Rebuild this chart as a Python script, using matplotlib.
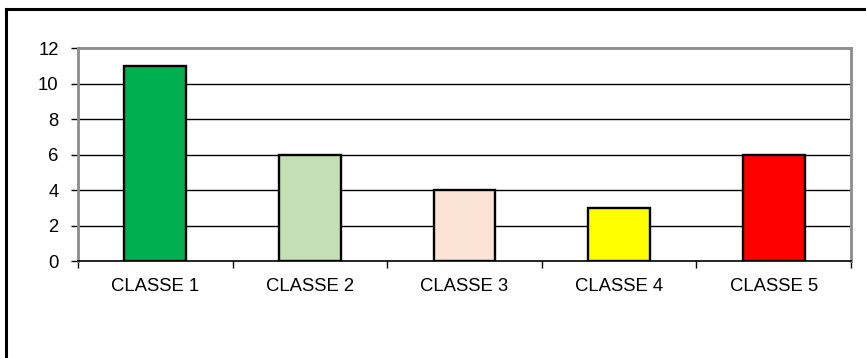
import matplotlib

matplotlib.use("Agg")
import matplotlib.pyplot as plt
from matplotlib.lines import Line2D

plt.rcParams["font.family"] = ["Liberation Sans", "DejaVu Sans"]

classes = ["CLASSE 1", "CLASSE 2", "CLASSE 3", "CLASSE 4", "CLASSE 5"]
counts = [11, 6, 4, 3, 6]
bar_colors = ["#00B050", "#C4DFB4", "#FBE4D5", "#FFFF00", "#FF0000"]
y_ticks = [0, 2, 4, 6, 8, 10, 12]

GRID = "#000000"
FRAME = "#8c8c8c"

W, H = 866, 358
fig = plt.figure(figsize=(W / 100, H / 100), dpi=100)
fig.patch.set_facecolor("white")

# plot area in pixel terms
x0, x1, y_top, y_bot = 78, 851, 48, 261
ax = fig.add_axes([x0 / W, 1 - y_bot / H, (x1 - x0) / W, (y_bot - y_top) / H])

pos = list(range(len(classes)))
ax.bar(pos, counts, width=0.4, color=bar_colors, edgecolor="black",
       linewidth=1.7, zorder=3)

ax.set_xlim(-0.5, len(classes) - 0.5)
ax.set_ylim(0, 12)
ax.set_yticks(y_ticks)
ax.set_yticklabels([str(v) for v in y_ticks])
for v in y_ticks[1:-1]:
    ax.axhline(v, color=GRID, lw=1.0, zorder=1)

# category labels centred, ticks at the boundaries
ax.set_xticks(pos)
ax.set_xticklabels(classes)
ax.set_xticks([p - 0.5 for p in pos] + [len(classes) - 0.5], minor=True)
ax.tick_params(axis="x", which="major", length=0, pad=12, labelsize=13.3)
ax.tick_params(axis="x", which="minor", length=5, width=1, color="black",
               direction="out")
ax.tick_params(axis="y", length=5, width=1, color="black", direction="out",
               pad=9, labelsize=13.3)

for side in ("top", "right", "left"):
    ax.spines[side].set_color(FRAME)
    ax.spines[side].set_linewidth(2)
ax.spines["bottom"].set_color("black")
ax.spines["bottom"].set_linewidth(1.2)
ax.spines["bottom"].set_zorder(4)

# outer chart frame (top and left edges)
fig.add_artist(Line2D([6 / W, 1], [1 - 9 / H, 1 - 9 / H], color="black", lw=2.2,
                      transform=fig.transFigure))
fig.add_artist(Line2D([6 / W, 6 / W], [0, 1 - 9 / H], color="black", lw=2.2,
                      transform=fig.transFigure))

fig.savefig("out.png", dpi=100)
